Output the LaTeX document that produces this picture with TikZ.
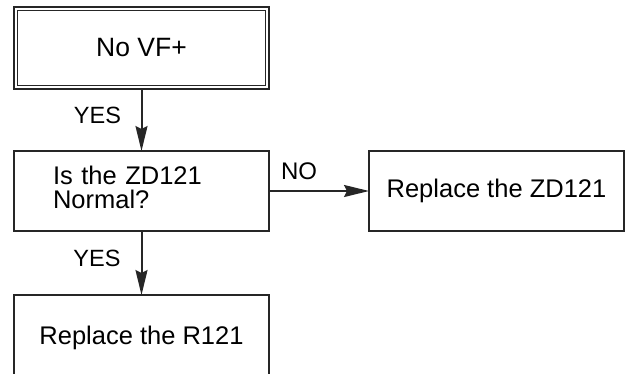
\documentclass[tikz,border=0pt]{standalone}
\usepackage{fontspec}
\setmainfont{Liberation Sans}
\usetikzlibrary{arrows.meta}
\begin{document}
\begin{tikzpicture}[x=1pt,y=-1pt,
  box/.style={draw=black!85, line width=1.8pt, minimum width=255pt, minimum height=80pt, inner sep=0pt, outer sep=0pt, font=\fontsize{25.5}{23.3}\selectfont},
  lbl/.style={inner sep=0pt, font=\fontsize{23.5}{23.5}\selectfont},
  conn/.style={line width=2pt, draw=black!85, -{Stealth[length=25pt,width=12pt,inset=3pt]}}]
\useasboundingbox (0,0) rectangle (632,373);
\node[box, line width=2pt, minimum height=82pt, font=\fontsize{26.5}{26.5}\selectfont] (b1) at (141.5,48) {No VF+};
\draw[line width=1pt, black!85] ([shift={(3.5,3.5)}]b1.north west) rectangle ([shift={(-3.5,-3.5)}]b1.south east);
\node[box, text width=177pt, inner xsep=39pt, minimum width=0pt, align=left, text depth=30.5pt] (b2) at (141.5,191) {Is the ZD121\\Normal?};
\node[box] (b3) at (496.5,191) {Replace the ZD121};
\node[box, text depth=0pt] (b4) at (141.5,335) {Replace the R121};
\draw[conn] (b1) -- (b2);
\draw[conn] (b2) -- (b3);
\draw[conn] (b2) -- (b4);
\node[lbl] (y1) at (97.5,115) {YES};
\node[lbl] (y2) at (97,258) {YES};
\node[lbl, font=\fontsize{24}{24}\selectfont] (n1) at (299,171) {NO};
\end{tikzpicture}
\end{document}
